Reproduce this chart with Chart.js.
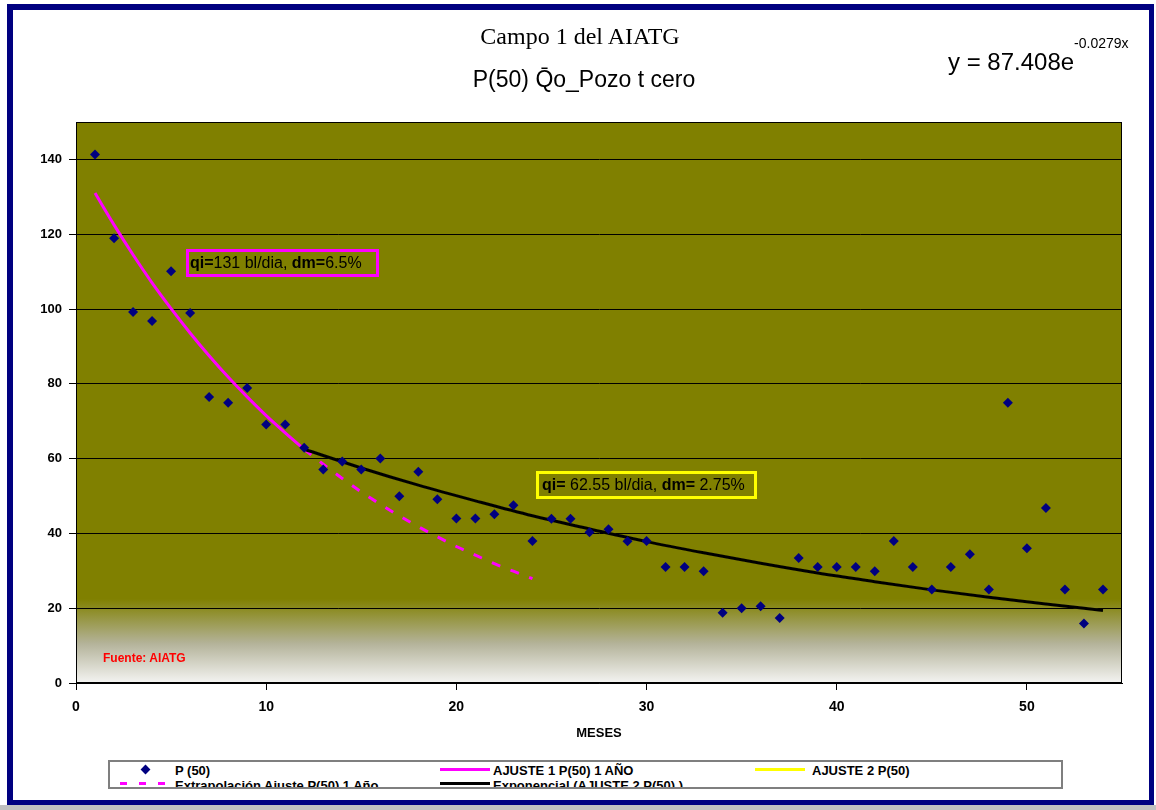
<!DOCTYPE html>
<html>
<head>
<meta charset="utf-8">
<script src="https://cdn.jsdelivr.net/npm/chart.js@4/dist/chart.umd.min.js"></script>
<style>
  html, body { margin: 0; padding: 0; background: #fff; }
  body { position: relative; width: 1156px; height: 810px; overflow: hidden; font-family: Arial, "Liberation Sans", sans-serif; }
  #chart { position: absolute; left: 0; top: 0; }
  .frame { position: absolute; left: 7px; top: 4px; width: 1147px; height: 801px; box-sizing: border-box; border: 6px solid #000080; border-right-width: 5px; border-bottom-width: 5px; pointer-events: none; }
  .strip { position: absolute; left: 0; top: 805px; width: 1156px; height: 5px; background: #c0c0c0; }
  .abs { position: absolute; white-space: nowrap; }
  .title1 { left: 0; width: 1160px; top: 24px; text-align: center; font: 24px "Times New Roman", "Liberation Serif", serif; line-height: 24px; color: #000; }
  .title2 { left: 0; width: 1168px; top: 68px; text-align: center; font: 23px Arial, "Liberation Sans", sans-serif; line-height: 23px; color: #000; }
  .eq { left: 948px; top: 50px; font-size: 24px; line-height: 24px; color: #000; }
  .eq sup { font-size: 14px; vertical-align: 0; position: relative; top: -22px; }
  .note { box-sizing: border-box; height: 28px; border: 3px solid; font-size: 16px; line-height: 22px; padding-left: 1px; color: #000; }
  .note b { font-weight: bold; }
  .fuente { left: 103px; top: 652px; font: bold 12px Arial, "Liberation Sans", sans-serif; line-height: 12px; color: #ff0000; }
  .meses { left: 499px; width: 200px; top: 726px; text-align: center; font: bold 13px Arial, "Liberation Sans", sans-serif; line-height: 13px; color: #000; }
  .legend { position: absolute; left: 108px; top: 760px; width: 955px; height: 29px; box-sizing: border-box; border: 2px solid #7f7f7f; background: #fff; overflow: hidden; }
  .legend .t { position: absolute; font: bold 13px Arial, "Liberation Sans", sans-serif; line-height: 13px; white-space: nowrap; color: #000; }
  .legend .ln { position: absolute; height: 3px; }
  .legend .dia { position: absolute; width: 7px; height: 7px; background: #000080; transform: rotate(45deg); }
</style>
</head>
<body>
<canvas id="chart" width="1156" height="810"></canvas>

<div class="abs title1">Campo 1 del AIATG</div>
<div class="abs title2">P(50) Q&#772;o_Pozo t cero</div>
<div class="abs eq">y = 87.408e<sup>-0.0279x</sup></div>

<div class="abs note" style="left:186px; top:249px; width:193px; border-color:#ff00ff;"><b>qi=</b>131 bl/dia, <b>dm=</b>6.5%</div>
<div class="abs note" style="left:536px; top:471px; width:221px; border-color:#ffff00; padding-left:3px;"><b>qi=</b> 62.55 bl/dia, <b>dm=</b> 2.75%</div>

<div class="abs fuente">Fuente: AIATG</div>
<div class="abs meses">MESES</div>

<div class="legend">
  <span class="dia" style="left:32px; top:4px;"></span>
  <span class="t" style="left:65px; top:2px;">P (50)</span>
  <span class="ln" style="left:330px; top:6px; width:50px; background:#ff00ff;"></span>
  <span class="t" style="left:383px; top:2px;">AJUSTE 1 P(50) 1 AÑO</span>
  <span class="ln" style="left:645px; top:6px; width:50px; background:#ffff00;"></span>
  <span class="t" style="left:702px; top:2px;">AJUSTE 2 P(50)</span>
  <span class="ln" style="left:10px; top:20px; width:47px; background:repeating-linear-gradient(90deg,#ff00ff 0 7px,transparent 7px 19px);"></span>
  <span class="t" style="left:65px; top:17px;">Extrapolación Ajuste P(50) 1 Año</span>
  <span class="ln" style="left:330px; top:20px; width:50px; background:#000;"></span>
  <span class="t" style="left:383px; top:17px;">Exponencial (AJUSTE 2 P(50) )</span>
</div>

<div class="frame"></div>
<div class="strip"></div>

<script>
// P(50) monthly values
const months = [1, 2, 3, 4, 5, 6, 7, 8, 9, 10, 11, 12, 13, 14, 15, 16, 17, 18,
  19, 20, 21, 22, 23, 24, 25, 26, 27, 28, 29, 30, 31, 32, 33, 34, 35, 36,
  37, 38, 39, 40, 41, 42, 43, 44, 45, 46, 47, 48, 49, 50, 51, 52, 53, 54];
const p50 = [141.3, 118.9, 99.2, 96.8, 110.1, 98.9, 76.5, 74.9, 78.9, 69.1, 69.1, 62.9, 57.1, 59.2, 57.1, 60, 49.9, 56.5,
  49.1, 44, 44, 45.1, 47.5, 38, 43.9, 43.9, 40.3, 41.1, 37.9, 38, 31, 31, 29.9, 18.8, 20, 20.5,
  17.4, 33.4, 31, 31, 31, 29.9, 38, 31, 25, 31, 34.4, 25, 74.9, 36, 46.8, 25, 15.9, 25];

// fit curves
const ajuste1Months = [1, 2, 3, 4, 5, 6, 7, 8, 9, 10, 11, 12];
const ajuste1 = [131, 122.5, 114.5, 107, 100.1, 93.6, 87.5, 81.8, 76.5, 71.5, 66.9, 62.5];

const extrapMonths = [12, 13, 14, 15, 16, 17, 18, 19, 20, 21, 22, 23, 24];
const extrap = [62.5, 58.5, 54.7, 51.1, 47.8, 44.7, 41.8, 39.1, 36.5, 34.2, 31.9, 29.9, 27.9];

const ajuste2Months = [12, 15, 18, 21, 24, 27, 30, 33, 36, 39, 42, 45, 48, 51, 54];
const ajuste2 = [62.5, 57.5, 52.9, 48.7, 44.7, 41.2, 37.8, 34.8, 32.0, 29.4, 27.1, 24.9, 22.9, 21.1, 19.4];
const expFit = [62.5, 57.5, 52.9, 48.7, 44.7, 41.2, 37.8, 34.8, 32.0, 29.4, 27.1, 24.9, 22.9, 21.1, 19.4];

// axis ticks
const xTicks = [0, 10, 20, 30, 40, 50];
const yTicks = [0, 20, 40, 60, 80, 100, 120, 140];

function pts(xs, ys) {
    return xs.map((x, i) => ({ x: x, y: ys[i] }));
}

// olive plot area fading to white at the bottom, plus outline
const plotBg = {
    id: 'plotBg',
    beforeDraw(chart) {
        const { ctx, chartArea: a } = chart;
        const g = ctx.createLinearGradient(0, a.top, 0, a.bottom);
        g.addColorStop(0, '#808000');
        g.addColorStop(0.85, '#808000');
        g.addColorStop(0.93, '#b4b39a');
        g.addColorStop(1, '#f4f4f2');
        ctx.save();
        ctx.fillStyle = g;
        ctx.fillRect(a.left, a.top, a.width, a.height);
        ctx.restore();
    },
    beforeDatasetsDraw(chart) {
        const { ctx, chartArea: a } = chart;
        ctx.save();
        ctx.strokeStyle = '#000';
        ctx.lineWidth = 1;
        ctx.strokeRect(a.left + 0.5, a.top + 0.5, a.width - 1, a.height - 1);
        ctx.restore();
    }
};

Chart.defaults.font.family = 'Arial, "Liberation Sans", sans-serif';

new Chart(document.getElementById('chart'), {
    type: 'scatter',
    data: {
        datasets: [
            {
                label: 'P (50)',
                data: pts(months, p50),
                pointStyle: 'rectRot',
                pointRadius: 5,
                pointBackgroundColor: '#000080',
                pointBorderColor: '#000080',
                pointBorderWidth: 0,
                showLine: false
            },
            {
                label: 'Exponencial (AJUSTE 2 P(50) )',
                data: pts(ajuste2Months, expFit),
                showLine: true,
                borderColor: '#000000',
                borderWidth: 3,
                pointRadius: 0,
                cubicInterpolationMode: 'monotone'
            },
            {
                label: 'AJUSTE 2 P(50)',
                data: pts(ajuste2Months, ajuste2),
                showLine: true,
                borderColor: '#ffff00',
                borderWidth: 2,
                pointRadius: 0,
                cubicInterpolationMode: 'monotone'
            },
            {
                label: 'AJUSTE 1 P(50) 1 AÑO',
                data: pts(ajuste1Months, ajuste1),
                showLine: true,
                borderColor: '#ff00ff',
                borderWidth: 3,
                pointRadius: 0,
                cubicInterpolationMode: 'monotone'
            },
            {
                label: 'Extrapolación Ajuste P(50) 1 Año',
                data: pts(extrapMonths, extrap),
                showLine: true,
                borderColor: '#ff00ff',
                borderWidth: 3,
                borderDash: [9, 11],
                pointRadius: 0,
                cubicInterpolationMode: 'monotone'
            }
        ]
    },
    options: {
        responsive: false,
        animation: false,
        devicePixelRatio: 1,
        layout: { padding: { left: 0, top: 122, right: 34, bottom: 87 } },
        plugins: {
            legend: { display: false },
            title: { display: false },
            tooltip: { enabled: false }
        },
        scales: {
            x: {
                type: 'linear',
                min: 0,
                max: 55,
                afterFit: s => { s.height = 40; },
                afterBuildTicks: s => { s.ticks = xTicks.map(v => ({ value: v })); },
                border: { color: '#000', width: 1 },
                grid: { drawOnChartArea: false, drawTicks: true, tickLength: 7, color: '#000' },
                ticks: { color: '#000', padding: 9, font: { size: 14, weight: 'bold' }, maxRotation: 0 }
            },
            y: {
                min: 0,
                max: 150,
                afterFit: s => { s.width = 76; },
                afterBuildTicks: s => { s.ticks = yTicks.map(v => ({ value: v })); },
                border: { color: '#000', width: 1 },
                grid: { color: '#000', lineWidth: 1, tickLength: 7 },
                ticks: { color: '#000', padding: 7, font: { size: 13, weight: 'bold' } }
            }
        }
    },
    plugins: [plotBg]
});
</script>
</body>
</html>
